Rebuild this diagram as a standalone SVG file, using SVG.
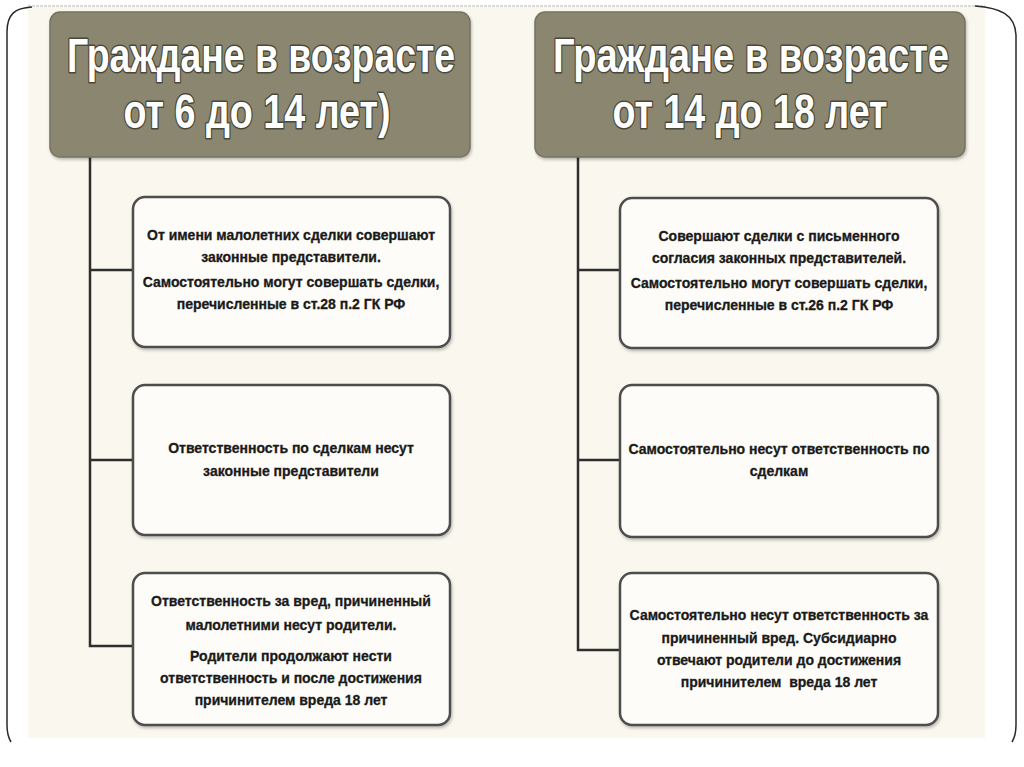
<svg xmlns="http://www.w3.org/2000/svg" width="1024" height="767" viewBox="0 0 1024 767">
<defs>
<filter id="sh" x="-5%" y="-5%" width="110%" height="115%">
<feDropShadow dx="1" dy="2" stdDeviation="1.5" flood-color="#000" flood-opacity="0.25"/>
</filter>
</defs>
<style>
.hdr{fill:#8a8670;stroke:#76735f;stroke-width:1.5}
.ht{font-family:"Liberation Sans",Arial,sans-serif;font-weight:bold;font-size:48px;fill:#ffffff;stroke:#4a4838;stroke-width:3;paint-order:stroke;stroke-linejoin:round;text-anchor:middle}
.box{fill:#fdfcf8;stroke:#4d4d4d;stroke-width:2.5}
.bt{font-family:"Liberation Sans",Arial,sans-serif;font-weight:bold;font-size:14px;fill:#1a1a1a;stroke:#1a1a1a;stroke-width:0.3;text-anchor:middle}
.con{fill:none;stroke:#2e2e2e;stroke-width:2.5}
.frame{fill:none;stroke:#2a2a2a;stroke-width:1.5}
</style>
<rect x="0" y="0" width="1024" height="767" fill="#ffffff"/>
<rect x="28" y="7" width="957" height="731" fill="#f9f7ee"/>
<line x1="28" y1="6" x2="985" y2="6" stroke="#cfcdc4" stroke-width="1.5" stroke-dasharray="3 1"/>
<path class="frame" d="M 32 7 C 15 8 7 14 7 32 L 7 725 C 7 732 8 737 11 742"/>
<path class="frame" d="M 975 6 C 1000 8 1015 14 1016 35 L 1016 725 C 1016 732 1015 737 1012 742"/>

<g id="connectors">
<path class="con" d="M 90 157 L 90 646 L 133 646 M 90 270 L 133 270 M 90 460 L 133 460"/>
<path class="con" d="M 578 157 L 578 650 L 620 650 M 578 270 L 620 270 M 578 460 L 620 460"/>
</g>

<g id="header-left">
<rect class="hdr" x="50" y="12" width="420" height="145" rx="10" filter="url(#sh)"/>
<text class="ht" x="261" y="72" textLength="388" lengthAdjust="spacingAndGlyphs">Граждане в возрасте</text>
<text class="ht" x="257" y="128" textLength="267" lengthAdjust="spacingAndGlyphs">от 6 до 14 лет)</text>
</g>

<g id="header-right">
<rect class="hdr" x="535" y="12" width="430" height="145" rx="10" filter="url(#sh)"/>
<text class="ht" x="751" y="72" textLength="396" lengthAdjust="spacingAndGlyphs">Граждане в возрасте</text>
<text class="ht" x="750" y="128" textLength="275" lengthAdjust="spacingAndGlyphs">от 14 до 18 лет</text>
</g>

<g id="left-box1">
<rect class="box" x="133" y="197" width="317" height="150" rx="12" filter="url(#sh)"/>
<text class="bt" x="291" y="240">От имени малолетних сделки совершают</text>
<text class="bt" x="291" y="262">законные представители.</text>
<text class="bt" x="291" y="287">Самостоятельно могут совершать сделки,</text>
<text class="bt" x="291" y="309">перечисленные в ст.28 п.2 ГК РФ</text>
</g>

<g id="left-box2">
<rect class="box" x="133" y="385" width="317" height="150" rx="12" filter="url(#sh)"/>
<text class="bt" x="291" y="453">Ответственность по сделкам несут</text>
<text class="bt" x="291" y="476">законные представители</text>
</g>

<g id="left-box3">
<rect class="box" x="133" y="573" width="317" height="152" rx="12" filter="url(#sh)"/>
<text class="bt" x="291" y="606">Ответственность за вред, причиненный</text>
<text class="bt" x="291" y="630">малолетними несут родители.</text>
<text class="bt" x="291" y="661">Родители продолжают нести</text>
<text class="bt" x="291" y="683">ответственность и после достижения</text>
<text class="bt" x="291" y="705">причинителем вреда 18 лет</text>
</g>

<g id="right-box1">
<rect class="box" x="620" y="198" width="318" height="150" rx="12" filter="url(#sh)"/>
<text class="bt" x="779" y="241">Совершают сделки с письменного</text>
<text class="bt" x="779" y="263">согласия законных представителей.</text>
<text class="bt" x="779" y="288">Самостоятельно могут совершать сделки,</text>
<text class="bt" x="779" y="310">перечисленные в ст.26 п.2 ГК РФ</text>
</g>

<g id="right-box2">
<rect class="box" x="620" y="385" width="318" height="152" rx="12" filter="url(#sh)"/>
<text class="bt" x="779" y="454">Самостоятельно несут ответственность по</text>
<text class="bt" x="779" y="476">сделкам</text>
</g>

<g id="right-box3">
<rect class="box" x="620" y="573" width="318" height="152" rx="12" filter="url(#sh)"/>
<text class="bt" x="779" y="620">Самостоятельно несут ответственность за</text>
<text class="bt" x="779" y="643">причиненный вред. Субсидиарно</text>
<text class="bt" x="779" y="665">отвечают родители до достижения</text>
<text class="bt" x="779" y="687" xml:space="preserve">причинителем  вреда 18 лет</text>
</g>
</svg>
